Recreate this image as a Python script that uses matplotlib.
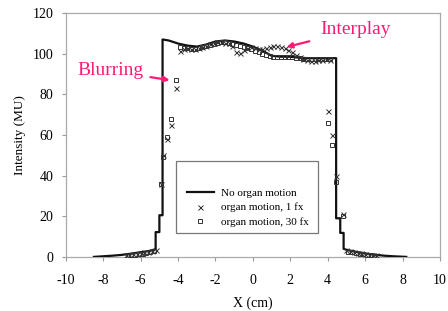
import matplotlib
matplotlib.use("Agg")
import matplotlib.pyplot as plt
from matplotlib.patches import Rectangle

plt.rcParams['font.family'] = ['Liberation Serif', 'DejaVu Serif']

# No organ motion profile (step-like)
line_x = [-8.5, -8.0, -7.5, -7.0, -6.5, -6.0, -5.5, -5.2, -5.2, -5.0, -5.0, -4.83, -4.83,
          -4.5, -4.0, -3.5, -3.0, -2.5, -2.0, -1.5, -1.0, -0.5, 0.0, 0.5, 1.0, 1.5, 2.0,
          2.5, 3.0, 3.5, 4.0, 4.45, 4.45, 4.67, 4.67, 4.85, 4.85, 5.0, 5.5, 6.0, 6.5,
          7.0, 7.5, 8.2]
line_y = [0.0, 0.3, 0.6, 1.0, 1.6, 2.3, 3.0, 3.8, 12.2, 12.2, 20.5, 20.5, 107.0,
          106.5, 105.0, 104.0, 103.5, 104.5, 106.0, 106.5, 106.0, 105.0, 103.5, 101.5, 99.0, 98.5, 98.5,
          98.0, 97.8, 97.8, 97.8, 97.8, 19.0, 19.0, 11.8, 11.8, 4.0, 3.5, 2.5, 1.7, 1.1,
          0.6, 0.3, 0.0]

# organ motion, 1 fx
fx1_x = [-6.8, -6.6, -6.4, -6.2, -6.0, -5.8, -5.6, -5.4, -5.2,
         -4.9, -4.83, -4.6, -4.4, -4.13,
         -3.9, -3.7, -3.5, -3.3, -3.1, -2.9, -2.7, -2.5, -2.3, -2.1, -1.9, -1.7, -1.5,
         -1.3, -1.1, -0.9, -0.7, -0.5, -0.3, -0.1, 0.1, 0.3, 0.5, 0.7, 0.9, 1.1, 1.3,
         1.5, 1.7, 1.9, 2.1, 2.3, 2.5, 2.7, 2.9, 3.1, 3.3, 3.5, 3.7, 3.9, 4.1,
         4.03, 4.24, 4.45, 4.8,
         5.0, 5.2, 5.4, 5.6, 5.8, 6.0, 6.2, 6.4, 6.6]
fx1_y = [0.8, 1.0, 1.3, 1.6, 1.9, 2.2, 2.6, 3.0, 3.4,
         36.0, 50.0, 58.0, 65.0, 83.0,
         101.5, 102.5, 103.0, 102.5, 102.5, 103.0, 103.5, 104.0, 105.0, 105.5, 106.0, 106.0, 105.5,
         105.5, 104.0, 101.0, 100.5, 102.0, 103.0, 103.5, 103.0, 102.5, 102.5, 103.0, 103.5, 104.0, 104.0,
         103.5, 103.0, 102.0, 101.0, 99.5, 98.5, 97.5, 97.0, 96.5, 96.5, 97.0, 97.0, 97.5, 97.0,
         72.0, 60.0, 40.0, 21.0,
         3.2, 2.8, 2.4, 2.0, 1.7, 1.4, 1.1, 0.9, 0.7]

# organ motion, 30 fx
fx30_x = [-6.7, -6.5, -6.3, -6.1, -5.9, -5.7, -5.5, -5.3,
          -4.9, -4.83, -4.6, -4.4, -4.13,
          -3.9, -3.7, -3.5, -3.3, -3.1, -2.9, -2.7, -2.5, -2.3, -2.1, -1.9, -1.7, -1.5,
          -1.3, -1.1, -0.9, -0.7, -0.5, -0.3, -0.1, 0.1, 0.3, 0.5, 0.7, 0.9, 1.1, 1.3,
          1.5, 1.7, 1.9, 2.1, 2.3, 2.5, 2.7, 2.9, 3.1, 3.3, 3.5, 3.7, 3.9, 4.1,
          4.03, 4.24, 4.45, 4.8,
          5.1, 5.3, 5.5, 5.7, 5.9, 6.1, 6.3, 6.5]
fx30_y = [0.5, 0.7, 1.0, 1.3, 1.6, 2.0, 2.4, 2.8,
          36.0, 49.0, 59.0, 68.0, 87.0,
          103.5, 103.0, 103.0, 102.5, 102.5, 103.0, 103.5, 104.0, 104.5, 105.0, 105.5, 106.0, 106.0,
          105.5, 105.0, 104.5, 104.0, 103.5, 103.0, 102.5, 101.5, 101.0, 100.0, 99.5, 99.0, 98.5, 98.5,
          98.5, 98.5, 98.5, 98.5, 98.0, 98.0, 97.5, 97.5, 97.5, 97.5, 97.5, 97.5, 97.5, 97.5,
          66.0, 55.0, 37.0, 20.0,
          2.6, 2.2, 1.8, 1.5, 1.2, 0.9, 0.7, 0.5]

x_ticks = [-10, -8, -6, -4, -2, 0, 2, 4, 6, 8, 10]
y_ticks = [0, 20, 40, 60, 80, 100, 120]

fig = plt.figure(figsize=(4.48, 3.11), dpi=100)
ax = fig.add_axes([0.147, 0.174, 0.835, 0.784])

ax.plot(line_x, line_y, color='#111111', lw=1.6, label='No organ motion', zorder=3)
ax.plot(fx1_x, fx1_y, ls='none', marker='x', ms=3.6, mew=0.7, color='#333333',
        label='organ motion, 1 fx', zorder=4)
ax.plot(fx30_x, fx30_y, ls='none', marker='s', ms=3.0, mew=0.7, mfc='none', mec='#333333',
        label='organ motion, 30 fx', zorder=4)

ax.set_xlim(-10, 10)
ax.set_ylim(0, 120)
ax.set_xticks(x_ticks)
ax.set_yticks(y_ticks)
ax.set_xticklabels([str(t) for t in x_ticks], fontsize=10)
ax.set_yticklabels([str(t) for t in y_ticks], fontsize=10)
ax.tick_params(direction='out', length=3, width=0.8, color='#999999')
ax.tick_params(axis='x', pad=9)
ax.tick_params(axis='y', pad=6)
for s in ax.spines.values():
    s.set_color('#aaaaaa')
    s.set_linewidth(0.9)

ax.set_xlabel('X (cm)', fontsize=10, labelpad=7)
ax.set_ylabel('Intensity (MU)', fontsize=9.5, labelpad=5)

# legend box
ax.add_patch(Rectangle((0.294, 0.098), 0.38, 0.295, transform=ax.transAxes,
                       fill=True, facecolor='white', edgecolor='#777777', lw=0.9, zorder=5))
leg = ax.legend(loc='lower left', bbox_to_anchor=(0.30, 0.085), frameon=False,
                fontsize=8, handlelength=2.4, labelspacing=0.45, handletextpad=0.7,
                borderpad=0.3)
leg.set_zorder(6)

pink = '#ff1a75'
ax.annotate('Blurring', xy=(-4.45, 87), xytext=(-5.85, 91.5), color=pink, fontsize=14,
            ha='right', va='center',
            arrowprops=dict(arrowstyle='-|>', color=pink, lw=1.6, mutation_scale=8,
                            shrinkA=3, shrinkB=0))
ax.annotate('Interplay', xy=(1.8, 103.3), xytext=(3.6, 111.8), color=pink, fontsize=14,
            ha='left', va='center',
            arrowprops=dict(arrowstyle='-|>', color=pink, lw=1.6, mutation_scale=8,
                            shrinkA=6, shrinkB=0))

fig.savefig('out.png', dpi=100)
